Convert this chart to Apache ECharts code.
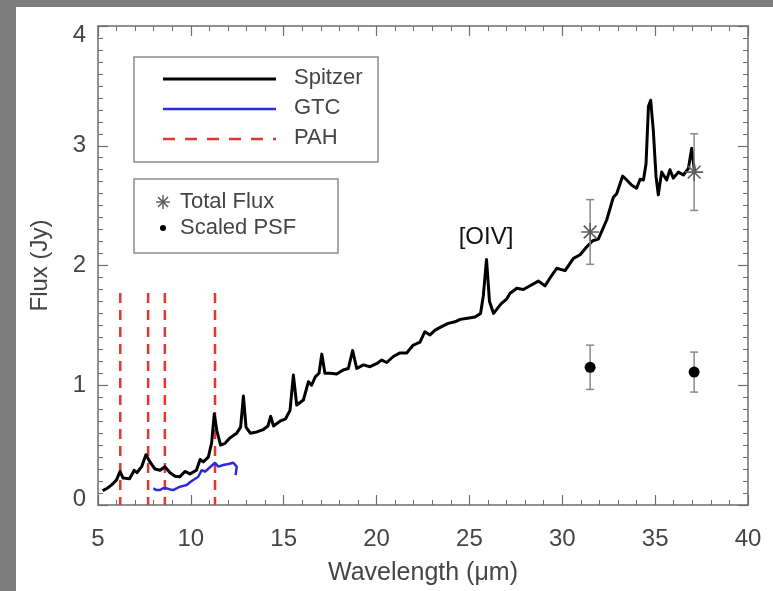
<!DOCTYPE html>
<html>
<head>
<meta charset="utf-8">
<script src="https://cdn.jsdelivr.net/npm/echarts@6/dist/echarts.min.js"></script>
<style>
  html, body { margin: 0; padding: 0; background: #ffffff; }
  #chart { width: 773px; height: 591px; }
</style>
</head>
<body>
<div id="chart"></div>
<script>
// Spitzer IRS spectrum: wavelength (micron) and flux (Jy)
var spitzerWave = [5.25, 5.5, 5.75, 6.0, 6.18, 6.35, 6.7, 6.95, 7.1, 7.35, 7.58, 7.8, 8.07, 8.34, 8.6, 8.88, 9.15, 9.4, 9.68, 9.95,
  10.3, 10.5, 10.67, 10.94, 11.12, 11.26, 11.4, 11.6, 11.84, 12.1, 12.47, 12.68, 12.83, 12.97, 13.2, 13.55, 13.9, 14.15, 14.3, 14.45,
  14.8, 15.1, 15.34, 15.52, 15.7, 16.06, 16.33, 16.5, 16.7, 16.9, 17.05, 17.22, 17.5, 17.85, 18.2, 18.48, 18.71, 18.93, 19.29, 19.65,
  20.0, 20.28, 20.55, 20.9, 21.26, 21.62, 21.98, 22.34, 22.6, 22.88, 23.15, 23.5, 23.86, 24.22, 24.5, 24.9, 25.3, 25.6, 25.75, 25.92,
  26.08, 26.3, 26.7, 27.0, 27.19, 27.55, 27.9, 28.17, 28.71, 29.07, 29.4, 29.7, 30.15, 30.6, 30.96, 31.32, 31.64, 31.94, 32.39, 32.75,
  32.93, 33.25, 33.47, 33.74, 34.0, 34.19, 34.37, 34.51, 34.64, 34.76, 34.9, 35.05, 35.17, 35.35, 35.62, 35.8, 35.98, 36.25, 36.52, 36.79,
  36.97, 37.1, 37.15];
var spitzerFlux = [0.12, 0.14, 0.17, 0.21, 0.28, 0.225, 0.22, 0.29, 0.27, 0.32, 0.42, 0.36, 0.30, 0.29, 0.32, 0.27, 0.24, 0.235, 0.28, 0.26,
  0.29, 0.38, 0.36, 0.40, 0.52, 0.76, 0.62, 0.50, 0.515, 0.56, 0.60, 0.65, 0.91, 0.65, 0.60, 0.61, 0.63, 0.66, 0.74, 0.66,
  0.70, 0.72, 0.79, 1.085, 0.835, 0.877, 1.03, 1.00, 1.07, 1.10, 1.26, 1.10, 1.10, 1.094, 1.127, 1.14, 1.29, 1.14, 1.17, 1.155,
  1.18, 1.21, 1.19, 1.24, 1.27, 1.27, 1.336, 1.36, 1.447, 1.42, 1.46, 1.49, 1.517, 1.53, 1.55, 1.56, 1.57, 1.60, 1.75, 2.05,
  1.70, 1.60, 1.68, 1.72, 1.768, 1.81, 1.80, 1.823, 1.87, 1.83, 1.91, 1.977, 1.957, 2.06, 2.09, 2.157, 2.207, 2.22, 2.38, 2.57,
  2.60, 2.747, 2.714, 2.67, 2.645, 2.72, 2.714, 2.85, 3.33, 3.38, 3.13, 2.74, 2.59, 2.78, 2.714, 2.80, 2.73, 2.78, 2.756, 2.81,
  2.98, 2.81, 2.78];

// GTC CanariCam N-band spectrum
var gtcWave = [7.98, 8.15, 8.34, 8.5, 8.7, 8.88, 9.05, 9.25, 9.42, 9.6, 9.78, 9.95, 10.13, 10.4, 10.58, 10.76, 11.03, 11.3, 11.48, 11.75, 12.02, 12.29, 12.47, 12.41];
var gtcFlux = [0.139, 0.125, 0.125, 0.14, 0.139, 0.13, 0.125, 0.14, 0.153, 0.16, 0.167, 0.19, 0.209, 0.236, 0.292, 0.278, 0.315, 0.353, 0.32, 0.334, 0.342, 0.353, 0.32, 0.25];

// PAH feature wavelengths and the height of their markers
var pahWave = [6.2, 7.7, 8.6, 11.3];
var pahTop = 1.77;

// Photometry: total flux and scaled PSF, with 1-sigma errors
var photWave = [31.5, 37.1];
var totalFlux = [2.28, 2.78];
var totalErr = [0.27, 0.32];
var psfFlux = [1.15, 1.11];
var psfErr = [0.185, 0.167];

// Axis ticks
var xTicks = [5, 10, 15, 20, 25, 30, 35, 40];
var yTicks = [0, 1, 2, 3, 4];

var FONT = 'Liberation Sans';
var AXIS_COLOR = '#6e6e6e';
var TEXT_COLOR = '#454545';

var chart = echarts.init(document.getElementById('chart'));

function pairs(xs, ys) {
  return xs.map(function (x, i) { return [x, ys[i]]; });
}

function errorRenderer(color) {
  return function (params, api) {
    var x = api.value(0), y = api.value(1), e = api.value(2);
    var top = api.coord([x, y + e]);
    var bot = api.coord([x, y - e]);
    var cap = 4;
    var style = { stroke: color, lineWidth: 1.5 };
    return {
      type: 'group',
      children: [
        { type: 'line', shape: { x1: top[0], y1: top[1], x2: bot[0], y2: bot[1] }, style: style },
        { type: 'line', shape: { x1: top[0] - cap, y1: top[1], x2: top[0] + cap, y2: top[1] }, style: style },
        { type: 'line', shape: { x1: bot[0] - cap, y1: bot[1], x2: bot[0] + cap, y2: bot[1] }, style: style }
      ]
    };
  };
}

var asteriskPath = 'path://M10,0 L10,20 M0,10 L20,10 M2.9,2.9 L17.1,17.1 M2.9,17.1 L17.1,2.9';

var axisCommon = {
  type: 'value',
  axisLine: { show: true, onZero: false, lineStyle: { color: AXIS_COLOR, width: 1.5 } },
  axisTick: { show: true, inside: true, length: 10, lineStyle: { color: AXIS_COLOR, width: 1.2 } },
  minorTick: { show: true, length: 5, lineStyle: { color: AXIS_COLOR, width: 1 } },
  splitLine: { show: false },
  minorSplitLine: { show: false }
};

function axis(extra) {
  return Object.assign({}, JSON.parse(JSON.stringify(axisCommon)), extra);
}

var series = [];

pahWave.forEach(function (w) {
  series.push({
    type: 'line',
    data: [[w, pahTop], [w, 0]],
    symbol: 'none',
    silent: true,
    z: 1,
    lineStyle: { color: '#e8342c', width: 2.5, type: [10, 7] }
  });
});

series.push({
  name: 'GTC',
  type: 'line',
  data: pairs(gtcWave, gtcFlux),
  symbol: 'none',
  z: 3,
  lineStyle: { color: '#2b2bd9', width: 2.5 }
});

series.push({
  name: 'Spitzer',
  type: 'line',
  data: pairs(spitzerWave, spitzerFlux),
  symbol: 'none',
  z: 4,
  lineStyle: { color: '#000000', width: 3, join: 'round' }
});

series.push({
  type: 'custom',
  renderItem: errorRenderer('#8a8a8a'),
  data: photWave.map(function (w, i) { return [w, totalFlux[i], totalErr[i]]; }),
  z: 5
});
series.push({
  type: 'custom',
  renderItem: errorRenderer('#8a8a8a'),
  data: photWave.map(function (w, i) { return [w, psfFlux[i], psfErr[i]]; }),
  z: 5
});

series.push({
  name: 'Total Flux',
  type: 'scatter',
  data: pairs(photWave, totalFlux),
  symbol: asteriskPath,
  symbolSize: 18,
  z: 6,
  itemStyle: { color: 'transparent', borderColor: '#5e5e5e', borderWidth: 1.6, opacity: 1 }
});

series.push({
  name: 'Scaled PSF',
  type: 'scatter',
  data: pairs(photWave, psfFlux),
  symbol: 'circle',
  symbolSize: 11,
  z: 6,
  itemStyle: { color: '#000000', opacity: 1 }
});

// Legend boxes and the [OIV] annotation
var legendText = { fontFamily: FONT, fontSize: 22, fill: TEXT_COLOR, verticalAlign: 'middle' };
function txt(x, y, s, extra) {
  return { type: 'text', x: x, y: y, z: 20, style: Object.assign({ text: s }, legendText, extra || {}) };
}
function seg(x1, y1, x2, y2, stroke, w) {
  return { type: 'line', z: 20, shape: { x1: x1, y1: y1, x2: x2, y2: y2 }, style: { stroke: stroke, lineWidth: w } };
}

var ax = 163, ay = 202;
var graphics = [
  { type: 'rect', shape: { x: 0, y: 0, width: 16, height: 591 }, style: { fill: '#7c7c7c' }, z: 30 },
  { type: 'rect', shape: { x: 0, y: 0, width: 773, height: 7 }, style: { fill: '#7c7c7c' }, z: 30 },
  { type: 'rect', shape: { x: 134, y: 57, width: 244, height: 105 }, style: { fill: '#ffffff', stroke: '#8c8c8c', lineWidth: 1.5 }, z: 19 },
  seg(163, 79, 276, 79, '#000000', 3),
  seg(163, 109, 276, 109, '#2b2bd9', 2.5),
  { type: 'line', shape: { x1: 163, y1: 139, x2: 276, y2: 139 }, style: { stroke: '#e8342c', lineWidth: 2.5, lineDash: [12, 10] }, z: 20 },
  txt(294, 78, 'Spitzer'),
  txt(294, 108, 'GTC'),
  txt(294, 138, 'PAH'),
  { type: 'rect', shape: { x: 134, y: 179, width: 204, height: 74 }, style: { fill: '#ffffff', stroke: '#8c8c8c', lineWidth: 1.5 }, z: 19 },
  seg(ax, ay - 7, ax, ay + 7, '#555555', 1.4),
  seg(ax - 7, ay, ax + 7, ay, '#555555', 1.4),
  seg(ax - 5, ay - 5, ax + 5, ay + 5, '#555555', 1.4),
  seg(ax - 5, ay + 5, ax + 5, ay - 5, '#555555', 1.4),
  { type: 'circle', shape: { cx: 163, cy: 228, r: 3 }, style: { fill: '#000000' }, z: 20 },
  txt(180, 202, 'Total Flux'),
  txt(180, 228, 'Scaled PSF'),
  txt(486, 237, '[OIV]', { fill: '#111111', fontSize: 24, align: 'center' })
];

chart.setOption({
  animation: false,
  backgroundColor: '#ffffff',
  grid: { left: 98, right: 25, top: 26, bottom: 86, containLabel: false },
  xAxis: [
    axis({
      position: 'bottom', min: 5, max: 40, interval: 5,
      name: 'Wavelength (\u03bcm)', nameLocation: 'middle', nameGap: 56,
      nameTextStyle: { fontFamily: FONT, fontSize: 25, color: TEXT_COLOR },
      axisLabel: {
        margin: 22, fontFamily: FONT, fontSize: 24, color: TEXT_COLOR,
        formatter: function (v) { return xTicks.indexOf(v) >= 0 ? String(v) : ''; }
      },
      minorTick: { show: true, splitNumber: 5, length: 5, lineStyle: { color: AXIS_COLOR, width: 1 } }
    }),
    axis({
      position: 'top', min: 5, max: 40, interval: 5,
      axisLabel: { show: false },
      minorTick: { show: true, splitNumber: 5, length: 5, lineStyle: { color: AXIS_COLOR, width: 1 } }
    })
  ],
  yAxis: [
    axis({
      position: 'left', min: 0, max: 4, interval: 1,
      name: 'Flux (Jy)', nameLocation: 'middle', nameGap: 46, nameRotate: 90,
      nameTextStyle: { fontFamily: FONT, fontSize: 24, color: TEXT_COLOR },
      axisLabel: {
        margin: 12, fontFamily: FONT, fontSize: 24, color: TEXT_COLOR,
        formatter: function (v) {
          if (yTicks.indexOf(v) < 0) return '';
          if (v === yTicks[yTicks.length - 1]) return '{hi|' + v + '}';
          if (v === yTicks[0]) return '{lo|' + v + '}';
          return String(v);
        },
        rich: {
          hi: { fontFamily: FONT, fontSize: 24, color: TEXT_COLOR, padding: [18, 0, 0, 0] },
          lo: { fontFamily: FONT, fontSize: 24, color: TEXT_COLOR, padding: [0, 0, 12, 0] }
        }
      },
      minorTick: { show: true, splitNumber: 10, length: 5, lineStyle: { color: AXIS_COLOR, width: 1 } }
    }),
    axis({
      position: 'right', min: 0, max: 4, interval: 1,
      axisLabel: { show: false },
      minorTick: { show: true, splitNumber: 10, length: 5, lineStyle: { color: AXIS_COLOR, width: 1 } }
    })
  ],
  series: series,
  graphic: graphics
});
</script>
</body>
</html>
